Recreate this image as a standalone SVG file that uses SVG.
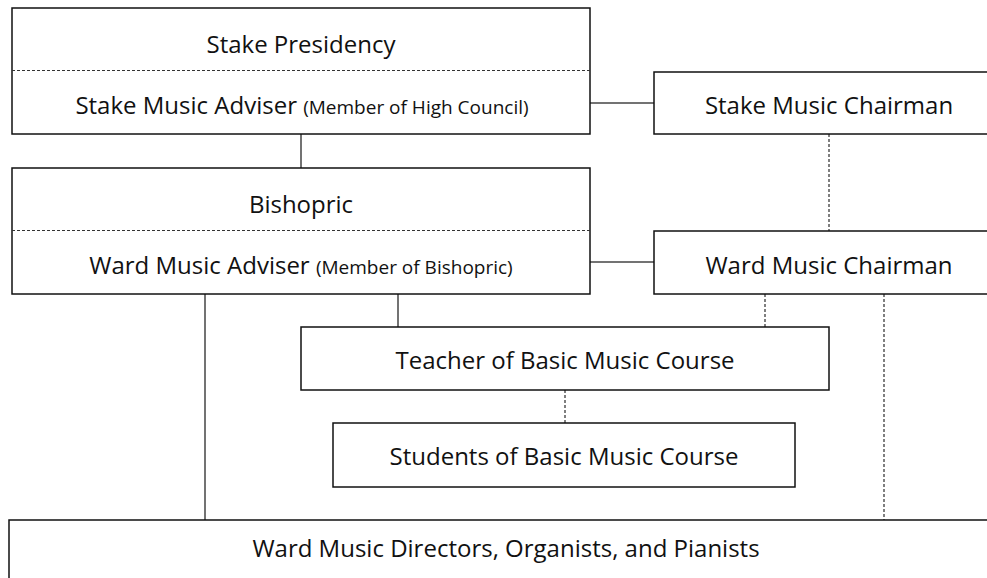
<svg xmlns="http://www.w3.org/2000/svg" width="987" height="578" viewBox="0 0 987 578">
<style>
.box{fill:#fff;stroke:#111;stroke-width:1.5}
.div{stroke:#333;stroke-width:1;stroke-dasharray:3 2;fill:none}
.t{font-family:"Open Sans","Noto Sans",sans-serif;font-size:24px;fill:#111;text-anchor:middle}
.s{font-size:19px}
.c{stroke:#444;stroke-width:1.5;fill:none}
.d{stroke:#555;stroke-width:1.5;stroke-dasharray:3 2;fill:none}
</style>
<rect width="987" height="578" fill="#fff"/>
<g id="connectors">
<line class="c" x1="301" y1="134" x2="301" y2="168"/>
<line class="c" x1="590" y1="103" x2="654" y2="103"/>
<line class="c" x1="590" y1="262" x2="654" y2="262"/>
<line class="d" x1="829" y1="134" x2="829" y2="231"/>
<line class="c" x1="205" y1="294" x2="205" y2="520"/>
<line class="c" x1="398" y1="294" x2="398" y2="327"/>
<line class="d" x1="765" y1="294" x2="765" y2="327"/>
<line class="d" x1="884" y1="294" x2="884" y2="520"/>
<line class="d" x1="565" y1="390" x2="565" y2="423"/>
</g>
<g id="stake">
<rect class="box" x="12" y="8" width="578" height="126"/>
<line class="div" x1="12" y1="70.5" x2="590" y2="70.5"/>
<text class="t" x="301" y="53">Stake Presidency</text>
<text class="t" x="302" y="114">Stake Music Adviser <tspan class="s">(Member of High Council)</tspan></text>
</g>
<g id="stake-chairman">
<rect class="box" x="654" y="72" width="350" height="62"/>
<text class="t" x="829" y="114">Stake Music Chairman</text>
</g>
<g id="ward">
<rect class="box" x="12" y="168" width="578" height="126"/>
<line class="div" x1="12" y1="230.5" x2="590" y2="230.5"/>
<text class="t" x="301" y="213">Bishopric</text>
<text class="t" x="301" y="274">Ward Music Adviser <tspan class="s">(Member of Bishopric)</tspan></text>
</g>
<g id="ward-chairman">
<rect class="box" x="654" y="231" width="350" height="63"/>
<text class="t" x="829" y="274">Ward Music Chairman</text>
</g>
<g id="teacher">
<rect class="box" x="301" y="327" width="528" height="63"/>
<text class="t" x="565" y="369">Teacher of Basic Music Course</text>
</g>
<g id="students">
<rect class="box" x="333" y="423" width="462" height="64"/>
<text class="t" x="564" y="465">Students of Basic Music Course</text>
</g>
<g id="directors">
<rect class="box" x="9" y="520" width="1000" height="70"/>
<text class="t" x="506" y="557">Ward Music Directors, Organists, and Pianists</text>
</g>
</svg>
